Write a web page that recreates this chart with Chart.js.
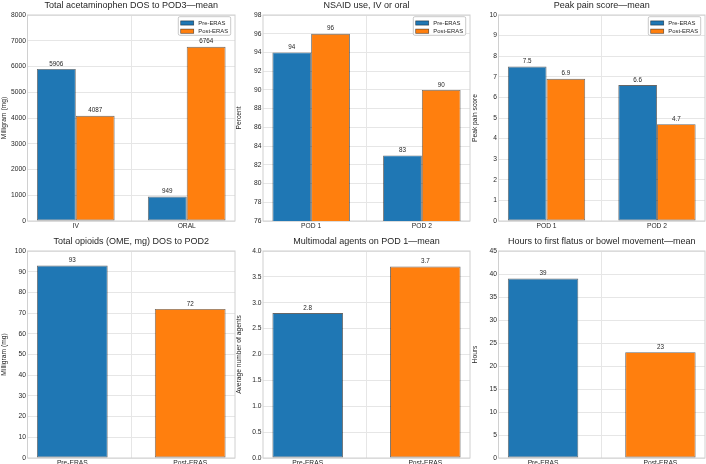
<!DOCTYPE html>
<html>
<head>
<meta charset="utf-8">
<script src="https://cdn.jsdelivr.net/npm/chart.js@4"></script>
<style>
  body { margin: 0; background: #fff; }
  #wrap { position: relative; width: 706px; height: 464px; overflow: hidden; }
  canvas { position: absolute; }
</style>
</head>
<body>
<div id="wrap">
  <canvas id="acetaChart"></canvas>
  <canvas id="nsaidChart"></canvas>
  <canvas id="painChart"></canvas>
  <canvas id="opioidChart"></canvas>
  <canvas id="agentChart"></canvas>
  <canvas id="flatusChart"></canvas>
</div>
<script>
const seriesNames = ["Pre-ERAS", "Post-ERAS"];

const acetaCats = ["IV", "ORAL"];
const acetaPre = [5906, 949];
const acetaPost = [4087, 6764];

const nsaidCats = ["POD 1", "POD 2"];
const nsaidPre = [94, 83];
const nsaidPost = [96, 90];

const painCats = ["POD 1", "POD 2"];
const painPre = [7.5, 6.6];
const painPost = [6.9, 4.7];

const groupCats = ["Pre-ERAS", "Post-ERAS"];
const opioidVals = [93, 72];
const agentVals = [2.8, 3.7];
const flatusVals = [39, 23];

const FONT = "'Liberation Sans', Arial, sans-serif";
const TEXT = "#262626";
const GRID = "#e6e6e6";
const EDGE = "#d0d0d0";
const BLUE = "#1f77b4";
const ORANGE = "#ff7f0e";
const BAR_EDGE = "rgba(0,0,0,0.6)";

// matplotlib-like frame round the plot area
const frame = {
  id: "frame",
  beforeDatasetsDraw(chart) {
    const { ctx, chartArea: a } = chart;
    ctx.save();
    ctx.strokeStyle = EDGE;
    ctx.lineWidth = 1;
    ctx.strokeRect(a.left, a.top, a.right - a.left, a.bottom - a.top);
    ctx.restore();
  },
};

// numbers on top of the bars
const valueLabels = {
  id: "valueLabels",
  afterDatasetsDraw(chart, args, opts) {
    const { ctx } = chart;
    ctx.save();
    ctx.font = "6.3px " + FONT;
    ctx.fillStyle = TEXT;
    ctx.textAlign = "center";
    ctx.textBaseline = "bottom";
    chart.data.datasets.forEach((ds, i) => {
      chart.getDatasetMeta(i).data.forEach((bar, j) => {
        ctx.fillText(ds.data[j].y.toFixed(opts.decimals), bar.x, bar.y - 2);
      });
    });
    ctx.restore();
  },
};

// legend box inside the plot, upper right
const boxLegend = {
  id: "boxLegend",
  afterDraw(chart) {
    const { ctx, chartArea: a } = chart;
    const w = 52.4,
      h = 18.6;
    const x = a.right - 4.3 - w,
      y = a.top + 1.7;
    ctx.save();
    ctx.fillStyle = "rgba(255,255,255,0.85)";
    ctx.strokeStyle = "#bbbbbb";
    ctx.lineWidth = 0.8;
    ctx.beginPath();
    ctx.roundRect(x, y, w, h, 1.5);
    ctx.fill();
    ctx.stroke();
    ctx.font = "5.9px " + FONT;
    ctx.textBaseline = "middle";
    ctx.textAlign = "left";
    chart.data.datasets.forEach((ds, i) => {
      const ry = y + 6.3 + i * 8.2;
      ctx.fillStyle = ds.backgroundColor;
      ctx.fillRect(x + 2.4, ry - 2.1, 13, 4.2);
      ctx.strokeStyle = BAR_EDGE;
      ctx.lineWidth = 0.7;
      ctx.strokeRect(x + 2.4, ry - 2.1, 13, 4.2);
      ctx.fillStyle = TEXT;
      ctx.fillText(ds.label, x + 20, ry);
    });
    ctx.restore();
  },
};

const toPoints = (vals) => vals.map((v, i) => ({ x: i, y: v }));

const grouped = (pre, post) => [
  { label: seriesNames[0], data: toPoints(pre), backgroundColor: BLUE },
  { label: seriesNames[1], data: toPoints(post), backgroundColor: ORANGE },
];

const single = (vals) => [
  { label: "", data: toPoints(vals), backgroundColor: [BLUE, ORANGE] },
];

const makeChart = (p) => {
  const canvas = document.getElementById(p.id);
  canvas.width = p.w;
  canvas.height = p.h;
  canvas.style.left = p.x + "px";
  canvas.style.top = p.y + "px";
  const isGrouped = p.datasets.length > 1;
  const span = isGrouped ? 0.435 : 0.38;
  p.datasets.forEach((ds) => {
    ds.borderColor = BAR_EDGE;
    ds.borderWidth = 0.9;
    ds.borderSkipped = false;
    ds.clip = 0;
    ds.categoryPercentage = isGrouped ? 0.7 : 0.6;
    ds.barPercentage = 1;
  });
  const config = {
    type: "bar",
    data: { datasets: p.datasets },
    options: {
      responsive: false,
      animation: false,
      devicePixelRatio: 1,
      layout: { padding: { left: 0, right: p.padRight, top: 0, bottom: 0 } },
      scales: {
        x: {
          type: "linear",
          min: -span,
          max: 1 + span,
          offset: false,
          afterBuildTicks: (axis) => {
            axis.ticks = p.cats.map((c, i) => ({ value: i }));
          },
          afterFit: (axis) => {
            axis.height = p.xh;
          },
          ticks: {
            callback: (v) => p.cats[v],
            font: { family: FONT, size: 6.7 },
            color: TEXT,
            padding: 1.5,
            maxRotation: 0,
            autoSkip: false,
          },
          grid: { color: GRID, drawTicks: false },
          border: { display: false },
        },
        y: {
          min: p.yMin,
          max: p.yMax,
          afterFit: (axis) => {
            axis.width = p.axisW;
          },
          ticks: {
            stepSize: p.step,
            callback: (v) => v.toFixed(p.tickDec),
            font: { family: FONT, size: 6.7 },
            color: TEXT,
            padding: 1.5,
          },
          grid: { color: GRID, drawTicks: false },
          border: { display: false },
          title: {
            display: true,
            text: p.ylabel,
            font: { family: FONT, size: 6.7 },
            color: TEXT,
            padding: 0,
          },
        },
      },
      plugins: {
        legend: { display: false },
        tooltip: { enabled: false },
        title: {
          display: true,
          fullSize: false,
          text: p.title,
          font: { family: FONT, size: 9, weight: "normal" },
          color: TEXT,
          padding: { top: 0, bottom: 4.2 },
        },
        valueLabels: { decimals: p.labelDec },
        boxLegend: isGrouped ? {} : false,
      },
    },
    plugins: [frame, valueLabels, boxLegend],
  };
  return new Chart(canvas, config);
};

makeChart({
  id: "acetaChart", x: 0, y: 0, w: 237, h: 232, axisW: 27.5, padRight: 2, xh: 11,
  title: "Total acetaminophen DOS to POD3\u2014mean", ylabel: "Milligram (mg)",
  cats: acetaCats, datasets: grouped(acetaPre, acetaPost),
  yMin: 0, yMax: 8000, step: 1000, tickDec: 0, labelDec: 0,
});

makeChart({
  id: "nsaidChart", x: 235, y: 0, w: 237, h: 232, axisW: 28, padRight: 2, xh: 11,
  title: "NSAID use, IV or oral", ylabel: "Percent",
  cats: nsaidCats, datasets: grouped(nsaidPre, nsaidPost),
  yMin: 76, yMax: 98, step: 2, tickDec: 0, labelDec: 0,
});

makeChart({
  id: "painChart", x: 471, y: 0, w: 235, h: 232, axisW: 27.5, padRight: 1, xh: 11,
  title: "Peak pain score\u2014mean", ylabel: "Peak pain score",
  cats: painCats, datasets: grouped(painPre, painPost),
  yMin: 0, yMax: 10, step: 1, tickDec: 0, labelDec: 1,
});

makeChart({
  id: "opioidChart", x: 0, y: 236, w: 237, h: 228, axisW: 27.5, padRight: 2, xh: 6,
  title: "Total opioids (OME, mg) DOS to POD2", ylabel: "Milligram (mg)",
  cats: groupCats, datasets: single(opioidVals),
  yMin: 0, yMax: 100, step: 10, tickDec: 0, labelDec: 0,
});

makeChart({
  id: "agentChart", x: 235, y: 236, w: 237, h: 228, axisW: 28, padRight: 2, xh: 6,
  title: "Multimodal agents on POD 1\u2014mean", ylabel: "Average number of agents",
  cats: groupCats, datasets: single(agentVals),
  yMin: 0, yMax: 4, step: 0.5, tickDec: 1, labelDec: 1,
});

makeChart({
  id: "flatusChart", x: 471, y: 236, w: 235, h: 228, axisW: 27.5, padRight: 1, xh: 6,
  title: "Hours to first flatus or bowel movement\u2014mean", ylabel: "Hours",
  cats: groupCats, datasets: single(flatusVals),
  yMin: 0, yMax: 45, step: 5, tickDec: 0, labelDec: 0,
});
</script>
</body>
</html>
